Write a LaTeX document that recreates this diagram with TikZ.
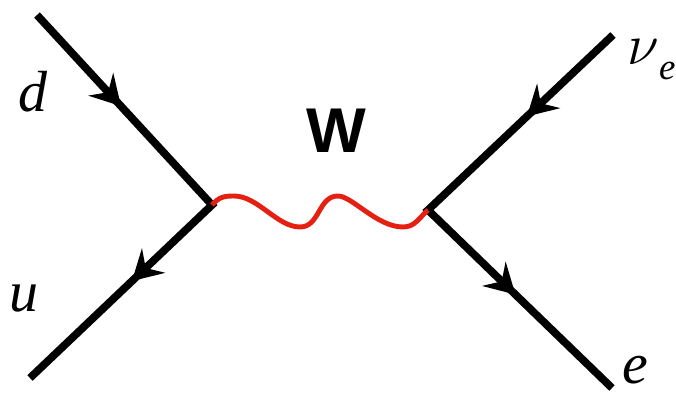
\documentclass[tikz,border=0pt]{standalone}
\usepackage{fix-cm}
\usepackage{fontspec}
\setmainfont{Liberation Serif}
\newfontfamily\wfont{Liberation Sans}
\usepackage{xcolor}
\usepackage{tikz}
\usetikzlibrary{calc}
\definecolor{wred}{RGB}{228,32,18}

\begin{document}
\begin{tikzpicture}[x=0.02cm, y=-0.02cm,
    leg/.style={line width=4.4pt, line join=miter},
    tiphead/.style={fill=black},
    boson/.style={wred, line width=2.8pt},
    lbl/.style={inner sep=0pt, anchor=base, font=\fontsize{33}{36}\selectfont\itshape}]
        \useasboundingbox (0,0) rectangle (676,394);
        % vertices and outer ends of the legs
        \coordinate (vl) at (212,205);
        \coordinate (vr) at (428,210);
        \coordinate (dq) at (37,15);
        \coordinate (uq) at (30,378);
        \coordinate (nu) at (613,35);
        \coordinate (el) at (612,388);
        % quark and lepton lines
        \draw[leg] (dq) -- (vl) -- (uq);
        \draw[leg] (nu) -- (vr) -- (el);
        % arrow heads on the lines (position along leg / direction)
        \foreach \a/\b/\p/\r in {dq/vl/0.48/-47.4, vl/uq/0.44/-136.5, nu/vr/0.465/-136.6, vr/el/0.475/-44} {
          \fill[tiphead, shift={($(\a)!\p!(\b)$)}, rotate=\r]
            (0,0) -- (-30,17) -- (-19,0) -- (-30,-17) -- cycle;
        }
        % W propagator
        \draw[boson] (vl) .. controls (219,197) and (224,196) .. (234,196)
          .. controls (258,196) and (277,227) .. (300,227)
          .. controls (320,227) and (318,196) .. (338,196)
          .. controls (352,196) and (377,227) .. (403,227)
          .. controls (415,227) and (419,218) .. (vr);
        % labels
        \node[lbl] (d) at (33,112) {d};
        \node[lbl] (u) at (24,312) {u};
        \node[lbl] (e) at (635,384) {e};
        \node[lbl, anchor=base west] (nue) at (627,65) {$\nu$\raisebox{-0.3cm}{\fontsize{21}{21}\selectfont e}};
        \node[inner sep=0pt, anchor=base, font=\wfont\bfseries\fontsize{36}{40}\selectfont] (W) at (336,153) {W};
      \end{tikzpicture}
\end{document}
